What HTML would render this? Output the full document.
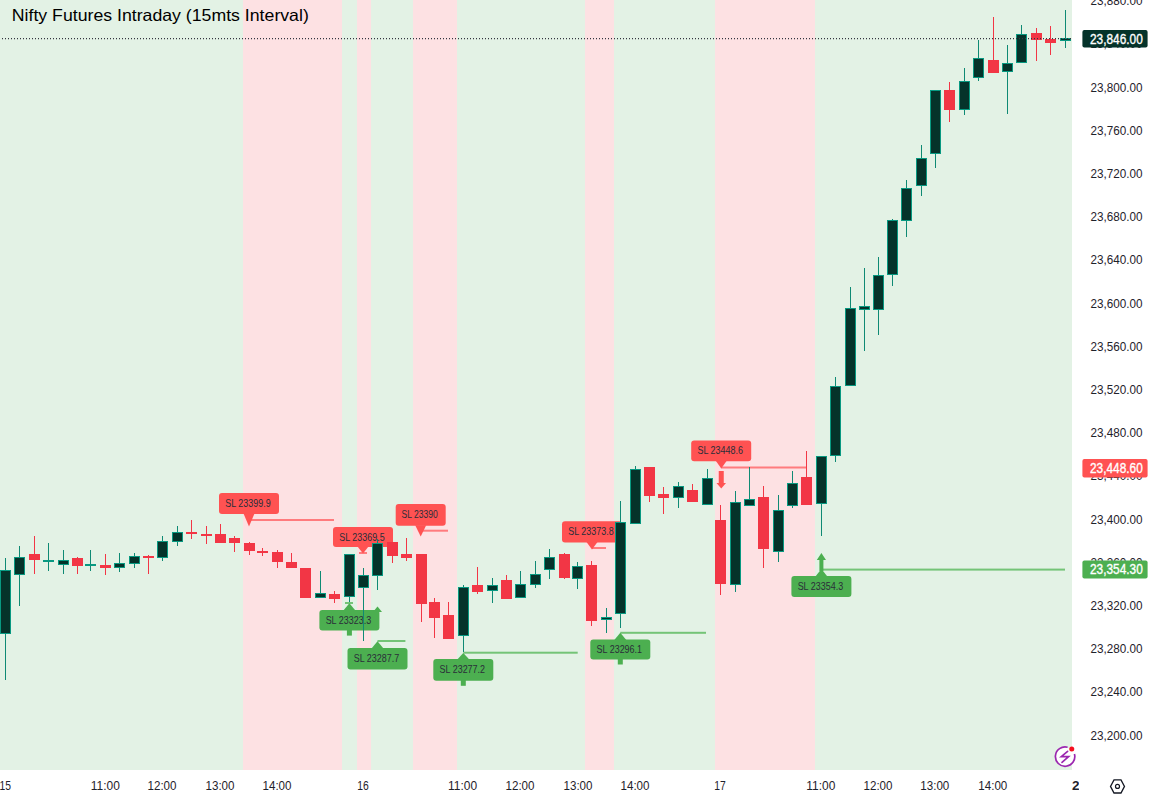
<!DOCTYPE html>
<html><head><meta charset="utf-8"><style>
html,body{margin:0;padding:0;background:#fff;width:1150px;height:800px;overflow:hidden}
svg{display:block;font-family:"Liberation Sans",sans-serif}
</style></head><body>
<svg width="1150" height="800" viewBox="0 0 1150 800" shape-rendering="auto">
<rect x="0" y="0" width="1072" height="770" fill="#e3f2e5"/>
<rect x="243" y="0" width="99" height="770" fill="#fde1e3"/>
<rect x="357" y="0" width="14" height="770" fill="#fde1e3"/>
<rect x="413" y="0" width="44" height="770" fill="#fde1e3"/>
<rect x="585" y="0" width="29" height="770" fill="#fde1e3"/>
<rect x="715" y="0" width="100" height="770" fill="#fde1e3"/>
<rect x="249.0" y="519.0" width="85.0" height="2" fill="#ff7b7e"/>
<rect x="359.0" y="552.0" width="8.0" height="2" fill="#ff7b7e"/>
<rect x="420.7" y="529.7" width="27.3" height="2" fill="#ff7b7e"/>
<rect x="592.0" y="547.0" width="14.0" height="2" fill="#ff7b7e"/>
<rect x="721.2" y="466.5" width="84.8" height="2" fill="#ff7b7e"/>
<rect x="345.0" y="602.0" width="8.0" height="2" fill="#74c477"/>
<rect x="377.5" y="640.0" width="27.9" height="2" fill="#74c477"/>
<rect x="463.3" y="651.7" width="114.4" height="2" fill="#74c477"/>
<rect x="620.3" y="631.8" width="85.7" height="2" fill="#74c477"/>
<rect x="821.4" y="568.6" width="243.6" height="2" fill="#74c477"/>
<rect x="219.0" y="493" width="60.0" height="21.0" rx="3" fill="#ff5252"/>
<path d="M243.50 513.5 L254.50 513.5 L249.00 526.5 Z" fill="#ff5252"/>
<text x="248.0" y="507.0" text-anchor="middle" font-size="10.5" fill="#2a2e39" textLength="45.5" lengthAdjust="spacingAndGlyphs">SL 23399.9</text>
<rect x="333.0" y="527" width="60.0" height="20.0" rx="3" fill="#ff5252"/>
<path d="M357.50 546.5 L368.50 546.5 L363.00 553.5 Z" fill="#ff5252"/>
<text x="362.0" y="540.5" text-anchor="middle" font-size="10.5" fill="#2a2e39" textLength="45.5" lengthAdjust="spacingAndGlyphs">SL 23369.5</text>
<rect x="395.7" y="504" width="50.0" height="21.7" rx="3" fill="#ff5252"/>
<path d="M415.20 525.2 L426.20 525.2 L420.70 536.4 Z" fill="#ff5252"/>
<text x="419.7" y="518.4" text-anchor="middle" font-size="10.5" fill="#2a2e39" textLength="36.4" lengthAdjust="spacingAndGlyphs">SL 23390</text>
<rect x="562.0" y="521.25" width="60.0" height="21.2" rx="3" fill="#ff5252"/>
<path d="M586.50 542.0 L597.50 542.0 L592.00 549.4 Z" fill="#ff5252"/>
<text x="591.0" y="535.4" text-anchor="middle" font-size="10.5" fill="#2a2e39" textLength="45.5" lengthAdjust="spacingAndGlyphs">SL 23373.8</text>
<rect x="691.2" y="440.6" width="60.0" height="20.6" rx="3" fill="#ff5252"/>
<path d="M715.75 460.75 L726.75 460.75 L721.25 468.5 Z" fill="#ff5252"/>
<text x="720.2" y="454.4" text-anchor="middle" font-size="10.5" fill="#2a2e39" textLength="45.5" lengthAdjust="spacingAndGlyphs">SL 23448.6</text>
<rect x="319.4" y="610" width="60.0" height="20.6" rx="3" fill="#4caf50"/>
<path d="M343.40 610.5 L355.40 610.5 L349.40 603.3 Z" fill="#4caf50"/>
<rect x="346.9" y="629.6" width="5" height="6" fill="#4caf50"/>
<text x="348.4" y="623.8" text-anchor="middle" font-size="10.5" fill="#2a2e39" textLength="45.5" lengthAdjust="spacingAndGlyphs">SL 23323.3</text>
<rect x="347.5" y="648" width="60.0" height="21.4" rx="3" fill="#4caf50"/>
<path d="M371.50 648.5 L383.50 648.5 L377.50 641.2 Z" fill="#4caf50"/>
<text x="376.5" y="662.2" text-anchor="middle" font-size="10.5" fill="#2a2e39" textLength="45.5" lengthAdjust="spacingAndGlyphs">SL 23287.7</text>
<rect x="433.3" y="659" width="60.0" height="21.8" rx="3" fill="#4caf50"/>
<path d="M457.30 659.5 L469.30 659.5 L463.30 653 Z" fill="#4caf50"/>
<rect x="460.8" y="679.8" width="5" height="6" fill="#4caf50"/>
<text x="462.3" y="673.4" text-anchor="middle" font-size="10.5" fill="#2a2e39" textLength="45.5" lengthAdjust="spacingAndGlyphs">SL 23277.2</text>
<rect x="590.3" y="639.4" width="60.0" height="20.1" rx="3" fill="#4caf50"/>
<path d="M614.30 639.9 L626.30 639.9 L620.30 632.8 Z" fill="#4caf50"/>
<rect x="617.8" y="658.5" width="5" height="6" fill="#4caf50"/>
<text x="619.3" y="653.0" text-anchor="middle" font-size="10.5" fill="#2a2e39" textLength="45.5" lengthAdjust="spacingAndGlyphs">SL 23296.1</text>
<rect x="791.4" y="576" width="60.0" height="21.0" rx="3" fill="#4caf50"/>
<path d="M815.40 576.5 L827.40 576.5 L821.40 569 Z" fill="#4caf50"/>
<text x="820.4" y="590.0" text-anchor="middle" font-size="10.5" fill="#2a2e39" textLength="45.5" lengthAdjust="spacingAndGlyphs">SL 23354.3</text>
<path d="M373.0 612 L382 612 L377.5 606.5 Z" fill="#4caf50"/>
<rect x="5" y="558" width="1" height="122" fill="#0f8a74"/>
<rect x="0" y="570" width="11" height="64" fill="#089981"/>
<rect x="1" y="571" width="9" height="62" fill="#05332a"/>
<rect x="19" y="546" width="1" height="60" fill="#0f8a74"/>
<rect x="14" y="557" width="11" height="18" fill="#089981"/>
<rect x="15" y="558" width="9" height="16" fill="#05332a"/>
<rect x="34" y="536" width="1" height="38" fill="#f23645"/>
<rect x="29" y="554" width="11" height="6" fill="#f23645"/>
<rect x="48" y="543" width="1" height="28" fill="#0f8a74"/>
<rect x="43" y="560" width="11" height="2" fill="#089981"/>
<rect x="63" y="550" width="1" height="24" fill="#0f8a74"/>
<rect x="58" y="560" width="11" height="5" fill="#089981"/>
<rect x="59" y="561" width="9" height="3" fill="#05332a"/>
<rect x="77" y="557" width="1" height="17" fill="#f23645"/>
<rect x="72" y="558" width="11" height="8" fill="#f23645"/>
<rect x="90" y="550" width="1" height="21" fill="#0f8a74"/>
<rect x="85" y="564" width="11" height="2" fill="#089981"/>
<rect x="105" y="554" width="1" height="21" fill="#f23645"/>
<rect x="100" y="565" width="11" height="3" fill="#f23645"/>
<rect x="119" y="553" width="1" height="19" fill="#0f8a74"/>
<rect x="114" y="563" width="11" height="5" fill="#089981"/>
<rect x="115" y="564" width="9" height="3" fill="#05332a"/>
<rect x="134" y="553" width="1" height="15" fill="#0f8a74"/>
<rect x="129" y="556" width="11" height="8" fill="#089981"/>
<rect x="130" y="557" width="9" height="6" fill="#05332a"/>
<rect x="148" y="555" width="1" height="19" fill="#f23645"/>
<rect x="143" y="556" width="11" height="2" fill="#f23645"/>
<rect x="162" y="536" width="1" height="25" fill="#0f8a74"/>
<rect x="157" y="541" width="11" height="17" fill="#089981"/>
<rect x="158" y="542" width="9" height="15" fill="#05332a"/>
<rect x="177" y="526" width="1" height="20" fill="#0f8a74"/>
<rect x="172" y="532" width="11" height="10" fill="#089981"/>
<rect x="173" y="533" width="9" height="8" fill="#05332a"/>
<rect x="191" y="520" width="1" height="19" fill="#f23645"/>
<rect x="186" y="532" width="11" height="2" fill="#f23645"/>
<rect x="206" y="526" width="1" height="18" fill="#f23645"/>
<rect x="201" y="534" width="11" height="2" fill="#f23645"/>
<rect x="220" y="524" width="1" height="19" fill="#f23645"/>
<rect x="215" y="534" width="11" height="9" fill="#f23645"/>
<rect x="234" y="536" width="1" height="16" fill="#f23645"/>
<rect x="229" y="538" width="11" height="5" fill="#f23645"/>
<rect x="249" y="542" width="1" height="13" fill="#f23645"/>
<rect x="244" y="543" width="11" height="8" fill="#f23645"/>
<rect x="262" y="548" width="1" height="8" fill="#f23645"/>
<rect x="257" y="551" width="11" height="2" fill="#f23645"/>
<rect x="277" y="550" width="1" height="18" fill="#f23645"/>
<rect x="272" y="552" width="11" height="10" fill="#f23645"/>
<rect x="291" y="553" width="1" height="15" fill="#f23645"/>
<rect x="286" y="562" width="11" height="6" fill="#f23645"/>
<rect x="305" y="568" width="1" height="30" fill="#f23645"/>
<rect x="300" y="568" width="11" height="30" fill="#f23645"/>
<rect x="320" y="571" width="1" height="27" fill="#0f8a74"/>
<rect x="315" y="593" width="11" height="5" fill="#089981"/>
<rect x="316" y="594" width="9" height="3" fill="#05332a"/>
<rect x="334" y="591" width="1" height="12" fill="#f23645"/>
<rect x="329" y="594" width="11" height="5" fill="#f23645"/>
<rect x="349" y="554" width="1" height="48" fill="#0f8a74"/>
<rect x="344" y="554" width="11" height="43" fill="#089981"/>
<rect x="345" y="555" width="9" height="41" fill="#05332a"/>
<rect x="363" y="568" width="1" height="73" fill="#0f8a74"/>
<rect x="358" y="575" width="11" height="13" fill="#089981"/>
<rect x="359" y="576" width="9" height="11" fill="#05332a"/>
<rect x="377" y="539" width="1" height="51" fill="#0f8a74"/>
<rect x="372" y="543" width="11" height="33" fill="#089981"/>
<rect x="373" y="544" width="9" height="31" fill="#05332a"/>
<rect x="392" y="542" width="1" height="21" fill="#f23645"/>
<rect x="387" y="542" width="11" height="14" fill="#f23645"/>
<rect x="406" y="538" width="1" height="23" fill="#f23645"/>
<rect x="401" y="554" width="11" height="4" fill="#f23645"/>
<rect x="421" y="554" width="1" height="68" fill="#f23645"/>
<rect x="416" y="554" width="11" height="50" fill="#f23645"/>
<rect x="434" y="598" width="1" height="40" fill="#f23645"/>
<rect x="429" y="602" width="11" height="16" fill="#f23645"/>
<rect x="448" y="602" width="1" height="37" fill="#f23645"/>
<rect x="443" y="615" width="11" height="24" fill="#f23645"/>
<rect x="463" y="585" width="1" height="67" fill="#0f8a74"/>
<rect x="458" y="587" width="11" height="49" fill="#089981"/>
<rect x="459" y="588" width="9" height="47" fill="#05332a"/>
<rect x="477" y="567" width="1" height="27" fill="#f23645"/>
<rect x="472" y="585" width="11" height="7" fill="#f23645"/>
<rect x="492" y="578" width="1" height="25" fill="#0f8a74"/>
<rect x="487" y="585" width="11" height="6" fill="#089981"/>
<rect x="488" y="586" width="9" height="4" fill="#05332a"/>
<rect x="506" y="575" width="1" height="24" fill="#f23645"/>
<rect x="501" y="580" width="11" height="19" fill="#f23645"/>
<rect x="520" y="571" width="1" height="27" fill="#0f8a74"/>
<rect x="515" y="584" width="11" height="14" fill="#089981"/>
<rect x="516" y="585" width="9" height="12" fill="#05332a"/>
<rect x="535" y="561" width="1" height="27" fill="#0f8a74"/>
<rect x="530" y="574" width="11" height="11" fill="#089981"/>
<rect x="531" y="575" width="9" height="9" fill="#05332a"/>
<rect x="549" y="549" width="1" height="30" fill="#0f8a74"/>
<rect x="544" y="557" width="11" height="13" fill="#089981"/>
<rect x="545" y="558" width="9" height="11" fill="#05332a"/>
<rect x="564" y="553" width="1" height="26" fill="#f23645"/>
<rect x="559" y="554" width="11" height="24" fill="#f23645"/>
<rect x="577" y="562" width="1" height="27" fill="#0f8a74"/>
<rect x="572" y="566" width="11" height="13" fill="#089981"/>
<rect x="573" y="567" width="9" height="11" fill="#05332a"/>
<rect x="591" y="561" width="1" height="65" fill="#f23645"/>
<rect x="586" y="565" width="11" height="56" fill="#f23645"/>
<rect x="606" y="608" width="1" height="25" fill="#0f8a74"/>
<rect x="601" y="617" width="11" height="3" fill="#089981"/>
<rect x="602" y="618" width="9" height="1" fill="#05332a"/>
<rect x="620" y="501" width="1" height="127" fill="#0f8a74"/>
<rect x="615" y="522" width="11" height="92" fill="#089981"/>
<rect x="616" y="523" width="9" height="90" fill="#05332a"/>
<rect x="635" y="466" width="1" height="58" fill="#0f8a74"/>
<rect x="630" y="469" width="11" height="55" fill="#089981"/>
<rect x="631" y="470" width="9" height="53" fill="#05332a"/>
<rect x="649" y="467" width="1" height="35" fill="#f23645"/>
<rect x="644" y="467" width="11" height="29" fill="#f23645"/>
<rect x="663" y="487" width="1" height="27" fill="#f23645"/>
<rect x="658" y="494" width="11" height="4" fill="#f23645"/>
<rect x="678" y="482" width="1" height="26" fill="#0f8a74"/>
<rect x="673" y="486" width="11" height="12" fill="#089981"/>
<rect x="674" y="487" width="9" height="10" fill="#05332a"/>
<rect x="692" y="484" width="1" height="18" fill="#f23645"/>
<rect x="687" y="490" width="11" height="12" fill="#f23645"/>
<rect x="707" y="469" width="1" height="36" fill="#0f8a74"/>
<rect x="702" y="478" width="11" height="27" fill="#089981"/>
<rect x="703" y="479" width="9" height="25" fill="#05332a"/>
<rect x="720" y="505" width="1" height="90" fill="#f23645"/>
<rect x="715" y="520" width="11" height="64" fill="#f23645"/>
<rect x="735" y="491" width="1" height="101" fill="#0f8a74"/>
<rect x="730" y="502" width="11" height="83" fill="#089981"/>
<rect x="731" y="503" width="9" height="81" fill="#05332a"/>
<rect x="749" y="467" width="1" height="39" fill="#0f8a74"/>
<rect x="744" y="499" width="11" height="7" fill="#089981"/>
<rect x="745" y="500" width="9" height="5" fill="#05332a"/>
<rect x="763" y="486" width="1" height="82" fill="#f23645"/>
<rect x="758" y="497" width="11" height="52" fill="#f23645"/>
<rect x="778" y="495" width="1" height="67" fill="#0f8a74"/>
<rect x="773" y="510" width="11" height="42" fill="#089981"/>
<rect x="774" y="511" width="9" height="40" fill="#05332a"/>
<rect x="792" y="471" width="1" height="37" fill="#0f8a74"/>
<rect x="787" y="483" width="11" height="23" fill="#089981"/>
<rect x="788" y="484" width="9" height="21" fill="#05332a"/>
<rect x="806" y="451" width="1" height="54" fill="#f23645"/>
<rect x="801" y="477" width="11" height="28" fill="#f23645"/>
<rect x="821" y="456" width="1" height="80" fill="#0f8a74"/>
<rect x="816" y="456" width="11" height="48" fill="#089981"/>
<rect x="817" y="457" width="9" height="46" fill="#05332a"/>
<rect x="835" y="377" width="1" height="85" fill="#0f8a74"/>
<rect x="830" y="386" width="11" height="70" fill="#089981"/>
<rect x="831" y="387" width="9" height="68" fill="#05332a"/>
<rect x="850" y="287" width="1" height="99" fill="#0f8a74"/>
<rect x="845" y="308" width="11" height="78" fill="#089981"/>
<rect x="846" y="309" width="9" height="76" fill="#05332a"/>
<rect x="864" y="268" width="1" height="83" fill="#0f8a74"/>
<rect x="859" y="306" width="11" height="4" fill="#089981"/>
<rect x="860" y="307" width="9" height="2" fill="#05332a"/>
<rect x="878" y="257" width="1" height="78" fill="#0f8a74"/>
<rect x="873" y="275" width="11" height="35" fill="#089981"/>
<rect x="874" y="276" width="9" height="33" fill="#05332a"/>
<rect x="892" y="219" width="1" height="67" fill="#0f8a74"/>
<rect x="887" y="220" width="11" height="55" fill="#089981"/>
<rect x="888" y="221" width="9" height="53" fill="#05332a"/>
<rect x="906" y="180" width="1" height="57" fill="#0f8a74"/>
<rect x="901" y="188" width="11" height="33" fill="#089981"/>
<rect x="902" y="189" width="9" height="31" fill="#05332a"/>
<rect x="921" y="145" width="1" height="51" fill="#0f8a74"/>
<rect x="916" y="158" width="11" height="28" fill="#089981"/>
<rect x="917" y="159" width="9" height="26" fill="#05332a"/>
<rect x="935" y="90" width="1" height="78" fill="#0f8a74"/>
<rect x="930" y="90" width="11" height="64" fill="#089981"/>
<rect x="931" y="91" width="9" height="62" fill="#05332a"/>
<rect x="949" y="82" width="1" height="40" fill="#f23645"/>
<rect x="944" y="90" width="11" height="20" fill="#f23645"/>
<rect x="964" y="68" width="1" height="47" fill="#0f8a74"/>
<rect x="959" y="81" width="11" height="29" fill="#089981"/>
<rect x="960" y="82" width="9" height="27" fill="#05332a"/>
<rect x="978" y="40" width="1" height="41" fill="#0f8a74"/>
<rect x="973" y="58" width="11" height="20" fill="#089981"/>
<rect x="974" y="59" width="9" height="18" fill="#05332a"/>
<rect x="993" y="17" width="1" height="56" fill="#f23645"/>
<rect x="988" y="60" width="11" height="13" fill="#f23645"/>
<rect x="1007" y="45" width="1" height="69" fill="#0f8a74"/>
<rect x="1002" y="63" width="11" height="9" fill="#089981"/>
<rect x="1003" y="64" width="9" height="7" fill="#05332a"/>
<rect x="1021" y="25" width="1" height="38" fill="#0f8a74"/>
<rect x="1016" y="34" width="11" height="29" fill="#089981"/>
<rect x="1017" y="35" width="9" height="27" fill="#05332a"/>
<rect x="1036" y="28" width="1" height="33" fill="#f23645"/>
<rect x="1031" y="33" width="11" height="7" fill="#f23645"/>
<rect x="1050" y="26" width="1" height="29" fill="#f23645"/>
<rect x="1045" y="39" width="11" height="4" fill="#f23645"/>
<rect x="1065" y="10" width="1" height="38" fill="#0f8a74"/>
<rect x="1060" y="38" width="11" height="3" fill="#089981"/>
<rect x="1061" y="39" width="9" height="1" fill="#05332a"/>
<path d="M718.75 471 H723.75 V483 H726 L721.25 488.5 L716.5 483 H718.75 Z" fill="#ff5252"/>
<path d="M819.4 571 H823.4 V560 H826 L821.4 553 L816.8 560 H819.4 Z" fill="#4caf50"/>
<line x1="2" y1="38.7" x2="1082" y2="38.7" stroke="#333640" stroke-width="1.3" stroke-dasharray="1 2"/>
<rect x="1072" y="0" width="78" height="800" fill="#ffffff"/>
<rect x="0" y="770" width="1150" height="30" fill="#ffffff"/>
<text x="1090.6" y="739.6" font-size="13.5" fill="#1f222b" textLength="52" lengthAdjust="spacingAndGlyphs">23,200.00</text>
<text x="1090.6" y="696.4" font-size="13.5" fill="#1f222b" textLength="52" lengthAdjust="spacingAndGlyphs">23,240.00</text>
<text x="1090.6" y="653.2" font-size="13.5" fill="#1f222b" textLength="52" lengthAdjust="spacingAndGlyphs">23,280.00</text>
<text x="1090.6" y="610.0" font-size="13.5" fill="#1f222b" textLength="52" lengthAdjust="spacingAndGlyphs">23,320.00</text>
<text x="1090.6" y="566.8" font-size="13.5" fill="#1f222b" textLength="52" lengthAdjust="spacingAndGlyphs">23,360.00</text>
<text x="1090.6" y="523.6" font-size="13.5" fill="#1f222b" textLength="52" lengthAdjust="spacingAndGlyphs">23,400.00</text>
<text x="1090.6" y="480.4" font-size="13.5" fill="#1f222b" textLength="52" lengthAdjust="spacingAndGlyphs">23,440.00</text>
<text x="1090.6" y="437.2" font-size="13.5" fill="#1f222b" textLength="52" lengthAdjust="spacingAndGlyphs">23,480.00</text>
<text x="1090.6" y="394.0" font-size="13.5" fill="#1f222b" textLength="52" lengthAdjust="spacingAndGlyphs">23,520.00</text>
<text x="1090.6" y="350.8" font-size="13.5" fill="#1f222b" textLength="52" lengthAdjust="spacingAndGlyphs">23,560.00</text>
<text x="1090.6" y="307.6" font-size="13.5" fill="#1f222b" textLength="52" lengthAdjust="spacingAndGlyphs">23,600.00</text>
<text x="1090.6" y="264.4" font-size="13.5" fill="#1f222b" textLength="52" lengthAdjust="spacingAndGlyphs">23,640.00</text>
<text x="1090.6" y="221.2" font-size="13.5" fill="#1f222b" textLength="52" lengthAdjust="spacingAndGlyphs">23,680.00</text>
<text x="1090.6" y="178.0" font-size="13.5" fill="#1f222b" textLength="52" lengthAdjust="spacingAndGlyphs">23,720.00</text>
<text x="1090.6" y="134.8" font-size="13.5" fill="#1f222b" textLength="52" lengthAdjust="spacingAndGlyphs">23,760.00</text>
<text x="1090.6" y="91.6" font-size="13.5" fill="#1f222b" textLength="52" lengthAdjust="spacingAndGlyphs">23,800.00</text>
<text x="1090.6" y="48.4" font-size="13.5" fill="#1f222b" textLength="52" lengthAdjust="spacingAndGlyphs">23,840.00</text>
<text x="1090.6" y="5.2" font-size="13.5" fill="#1f222b" textLength="52" lengthAdjust="spacingAndGlyphs">23,880.00</text>
<rect x="1082.4" y="30" width="65.2" height="17.5" rx="2" fill="#05332a"/>
<text x="1090" y="43.6" font-size="14" fill="#ffffff" stroke="#ffffff" stroke-width="0.35" textLength="52.8" lengthAdjust="spacingAndGlyphs">23,846.00</text>
<rect x="1082.4" y="459" width="65.2" height="18.399999999999977" rx="2" fill="#ff5252"/>
<text x="1090" y="473.1" font-size="14" fill="#ffffff" stroke="#ffffff" stroke-width="0.35" textLength="52.8" lengthAdjust="spacingAndGlyphs">23,448.60</text>
<rect x="1082.4" y="560.6" width="65.2" height="17.799999999999955" rx="2" fill="#4caf50"/>
<text x="1090" y="574.4" font-size="14" fill="#ffffff" stroke="#ffffff" stroke-width="0.35" textLength="52.8" lengthAdjust="spacingAndGlyphs">23,354.30</text>
<text x="5.2" y="790" text-anchor="middle" font-size="13.5" fill="#1f222b" textLength="11.5" lengthAdjust="spacingAndGlyphs">15</text>
<text x="105.3" y="790" text-anchor="middle" font-size="13.5" fill="#1f222b" textLength="29" lengthAdjust="spacingAndGlyphs">11:00</text>
<text x="162" y="790" text-anchor="middle" font-size="13.5" fill="#1f222b" textLength="29" lengthAdjust="spacingAndGlyphs">12:00</text>
<text x="220" y="790" text-anchor="middle" font-size="13.5" fill="#1f222b" textLength="29" lengthAdjust="spacingAndGlyphs">13:00</text>
<text x="277" y="790" text-anchor="middle" font-size="13.5" fill="#1f222b" textLength="29" lengthAdjust="spacingAndGlyphs">14:00</text>
<text x="363" y="790" text-anchor="middle" font-size="13.5" fill="#1f222b" textLength="11.5" lengthAdjust="spacingAndGlyphs">16</text>
<text x="462.6" y="790" text-anchor="middle" font-size="13.5" fill="#1f222b" textLength="29" lengthAdjust="spacingAndGlyphs">11:00</text>
<text x="520" y="790" text-anchor="middle" font-size="13.5" fill="#1f222b" textLength="29" lengthAdjust="spacingAndGlyphs">12:00</text>
<text x="578" y="790" text-anchor="middle" font-size="13.5" fill="#1f222b" textLength="29" lengthAdjust="spacingAndGlyphs">13:00</text>
<text x="635" y="790" text-anchor="middle" font-size="13.5" fill="#1f222b" textLength="29" lengthAdjust="spacingAndGlyphs">14:00</text>
<text x="720" y="790" text-anchor="middle" font-size="13.5" fill="#1f222b" textLength="11.5" lengthAdjust="spacingAndGlyphs">17</text>
<text x="820.8" y="790" text-anchor="middle" font-size="13.5" fill="#1f222b" textLength="29" lengthAdjust="spacingAndGlyphs">11:00</text>
<text x="878" y="790" text-anchor="middle" font-size="13.5" fill="#1f222b" textLength="29" lengthAdjust="spacingAndGlyphs">12:00</text>
<text x="934.8" y="790" text-anchor="middle" font-size="13.5" fill="#1f222b" textLength="29" lengthAdjust="spacingAndGlyphs">13:00</text>
<text x="992.8" y="790" text-anchor="middle" font-size="13.5" fill="#1f222b" textLength="29" lengthAdjust="spacingAndGlyphs">14:00</text>
<clipPath id="tc"><rect x="0" y="770" width="1079" height="30"/></clipPath><text x="1072" y="790" font-size="13.5" font-weight="bold" fill="#1f222b" clip-path="url(#tc)">20</text>
<polygon points="1124.50,786.40 1121.00,792.98 1114.00,792.98 1110.50,786.40 1114.00,779.82 1121.00,779.82" fill="none" stroke="#131722" stroke-width="1.3"/>
<circle cx="1117.5" cy="786.4" r="2" fill="none" stroke="#131722" stroke-width="1.2"/>
<circle cx="1065.1" cy="756.6" r="9" fill="#ffffff"/>
<path d="M1074.42 753.93 A9.7 9.7 0 1 1 1067.61 747.23" fill="none" stroke="#9c27b0" stroke-width="1.7"/>
<path d="M1067.6 751.3 L1061.3 756.6 L1068.6 756.6 L1062 762.4" fill="none" stroke="#9c27b0" stroke-width="1.7" stroke-linejoin="miter" stroke-linecap="round"/>
<circle cx="1071.75" cy="749" r="2.5" fill="#f50f1f"/>
<text x="11.8" y="21" font-size="16.5" fill="#000000" textLength="297" lengthAdjust="spacingAndGlyphs">Nifty Futures Intraday (15mts Interval)</text>
</svg>
</body></html>
